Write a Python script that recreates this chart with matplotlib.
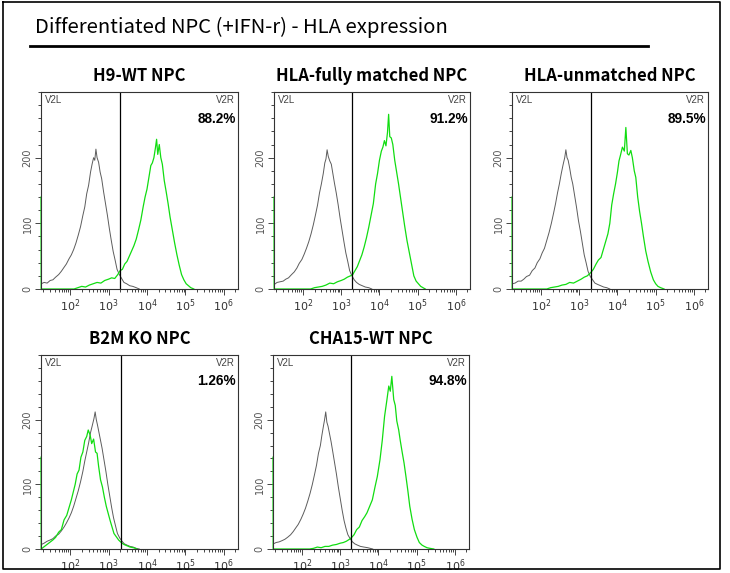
import numpy as np
import matplotlib
matplotlib.use("Agg")
import matplotlib.pyplot as plt
from matplotlib.ticker import LogLocator, FixedLocator, MultipleLocator, NullFormatter
from matplotlib.lines import Line2D

W, H = 730, 573

main_title = "Differentiated NPC (+IFN-r) - HLA expression"
panel_titles = ["H9-WT NPC", "HLA-fully matched NPC", "HLA-unmatched NPC",
                "B2M KO NPC", "CHA15-WT NPC"]
percent_labels = ["88.2%", "91.2%", "89.5%", "1.26%", "94.8%"]
gate_log = [3.30, 3.28, 3.30, 3.32, 3.27]
pileup_count = [140, 140, 140, 142, 142]

# gray = unstained / isotype control, green = HLA stained (x in log10 units)
gray_x = [
    [1.25, 1.32, 1.40, 1.48, 1.55, 1.62, 1.70, 1.77, 1.84, 1.90, 1.97, 2.03, 2.09, 2.15, 2.21, 2.27, 2.33, 2.38,
     2.43, 2.48, 2.53, 2.57, 2.61, 2.64, 2.67, 2.70, 2.74, 2.78, 2.82, 2.87, 2.92, 2.97, 3.02, 3.07, 3.12, 3.17,
     3.22, 3.28, 3.34, 3.40, 3.47, 3.55, 3.63, 3.72, 3.80],
    [1.25, 1.32, 1.40, 1.48, 1.55, 1.62, 1.70, 1.77, 1.84, 1.90, 1.97, 2.03, 2.09, 2.15, 2.21, 2.27, 2.33, 2.38,
     2.43, 2.48, 2.53, 2.57, 2.60, 2.63, 2.66, 2.70, 2.74, 2.78, 2.82, 2.87, 2.92, 2.97, 3.02, 3.07, 3.12, 3.17,
     3.22, 3.28, 3.34, 3.40, 3.47, 3.55, 3.63, 3.72, 3.80],
    [1.25, 1.32, 1.40, 1.48, 1.55, 1.62, 1.70, 1.77, 1.84, 1.90, 1.97, 2.03, 2.09, 2.15, 2.21, 2.27, 2.33, 2.38,
     2.43, 2.48, 2.53, 2.58, 2.62, 2.65, 2.68, 2.71, 2.75, 2.79, 2.83, 2.88, 2.93, 2.98, 3.03, 3.08, 3.13, 3.18,
     3.23, 3.29, 3.35, 3.41, 3.48, 3.56, 3.64, 3.72, 3.80],
    [1.25, 1.32, 1.40, 1.48, 1.55, 1.62, 1.70, 1.77, 1.84, 1.90, 1.97, 2.03, 2.09, 2.15, 2.21, 2.27, 2.33, 2.38,
     2.43, 2.48, 2.53, 2.58, 2.62, 2.65, 2.68, 2.71, 2.75, 2.79, 2.83, 2.88, 2.93, 2.98, 3.03, 3.08, 3.13, 3.18,
     3.23, 3.29, 3.35, 3.41, 3.48, 3.56, 3.64, 3.72, 3.80],
    [1.25, 1.32, 1.40, 1.48, 1.55, 1.62, 1.70, 1.77, 1.84, 1.90, 1.97, 2.03, 2.09, 2.15, 2.21, 2.27, 2.33, 2.38,
     2.43, 2.48, 2.52, 2.56, 2.59, 2.62, 2.65, 2.68, 2.72, 2.76, 2.80, 2.85, 2.90, 2.95, 3.00, 3.05, 3.10, 3.15,
     3.20, 3.26, 3.32, 3.38, 3.45, 3.53, 3.62, 3.72, 3.85],
]
gray_y = [
    [8, 10, 9, 13, 14, 18, 22, 27, 33, 38, 46, 52, 60, 70, 82, 95, 112, 125,
     145, 158, 178, 190, 200, 196, 213, 200, 193, 178, 168, 148, 130, 112, 92, 74, 57, 44,
     30, 22, 16, 10, 8, 5, 4, 2, 0],
    [7, 10, 11, 12, 15, 17, 22, 26, 32, 39, 45, 53, 62, 72, 84, 98, 114, 128,
     146, 160, 176, 192, 198, 212, 202, 195, 190, 176, 162, 146, 128, 108, 90, 72, 55, 42,
     28, 20, 14, 10, 7, 5, 3, 2, 0],
    [8, 9, 12, 12, 15, 19, 21, 28, 32, 40, 46, 55, 62, 74, 86, 100, 116, 130,
     146, 160, 176, 190, 200, 212, 200, 196, 184, 170, 160, 142, 124, 104, 88, 70, 52, 40,
     27, 19, 14, 9, 7, 5, 3, 2, 0],
    [7, 9, 12, 14, 16, 20, 23, 28, 34, 40, 48, 56, 66, 78, 90, 104, 120, 136,
     150, 164, 180, 192, 202, 212, 200, 192, 180, 168, 156, 138, 120, 100, 82, 64, 48, 36,
     24, 17, 12, 8, 6, 4, 3, 1, 0],
    [8, 10, 11, 13, 15, 18, 22, 27, 33, 38, 46, 54, 63, 74, 86, 100, 116, 130,
     148, 160, 176, 190, 200, 212, 196, 190, 178, 166, 152, 134, 116, 96, 78, 60, 44, 32,
     22, 16, 11, 8, 6, 4, 3, 2, 0],
]

green_x = [
    [2.10, 2.20, 2.30, 2.40, 2.50, 2.60, 2.70, 2.80, 2.90, 3.00, 3.08, 3.16, 3.24, 3.30, 3.36, 3.42, 3.48, 3.54,
     3.60, 3.66, 3.72, 3.78, 3.84, 3.90, 3.95, 4.00, 4.05, 4.10, 4.14, 4.18, 4.22, 4.25, 4.28, 4.32, 4.36, 4.40,
     4.45, 4.50, 4.55, 4.60, 4.66, 4.72, 4.78, 4.84, 4.90, 4.96, 5.02, 5.08, 5.14, 5.22],
    [2.20, 2.30, 2.40, 2.50, 2.60, 2.70, 2.80, 2.90, 3.00, 3.08, 3.16, 3.24, 3.30, 3.36, 3.42, 3.48, 3.54, 3.60,
     3.66, 3.72, 3.78, 3.84, 3.90, 3.95, 4.00, 4.05, 4.09, 4.13, 4.17, 4.21, 4.24, 4.27, 4.31, 4.35, 4.40, 4.45,
     4.50, 4.55, 4.60, 4.66, 4.72, 4.78, 4.84, 4.90, 4.96, 5.02, 5.08, 5.14, 5.20],
    [2.15, 2.25, 2.35, 2.45, 2.55, 2.65, 2.75, 2.85, 2.95, 3.05, 3.13, 3.21, 3.30, 3.37, 3.44, 3.50, 3.57, 3.63,
     3.69, 3.75, 3.80, 3.85, 3.90, 3.95, 4.00, 4.04, 4.08, 4.13, 4.18, 4.22, 4.26, 4.30, 4.35, 4.39, 4.44, 4.48,
     4.53, 4.58, 4.63, 4.68, 4.74, 4.80, 4.87, 4.94, 5.00, 5.06, 5.13, 5.22],
    [1.55, 1.62, 1.70, 1.77, 1.84, 1.91, 1.97, 2.03, 2.08, 2.13, 2.18, 2.23, 2.28, 2.33, 2.38, 2.43, 2.47, 2.52,
     2.56, 2.61, 2.66, 2.70, 2.74, 2.79, 2.84, 2.89, 2.94, 2.99, 3.04, 3.09, 3.14, 3.20, 3.26, 3.33, 3.40, 3.48,
     3.56, 3.65, 3.74],
    [2.20, 2.30, 2.40, 2.50, 2.60, 2.70, 2.80, 2.90, 3.00, 3.08, 3.16, 3.24, 3.30, 3.36, 3.43, 3.50, 3.57, 3.64,
     3.70, 3.77, 3.84, 3.91, 3.97, 4.04, 4.10, 4.16, 4.22, 4.27, 4.31, 4.35, 4.40, 4.44, 4.48, 4.53, 4.57, 4.62,
     4.67, 4.72, 4.77, 4.82, 4.88, 4.94, 5.01, 5.07, 5.14, 5.20, 5.27, 5.35, 5.45],
]
green_y = [
    [0, 2, 4, 3, 6, 8, 10, 9, 13, 15, 17, 16, 22, 28, 30, 38, 42, 50,
     58, 66, 76, 90, 105, 125, 140, 152, 170, 188, 192, 200, 215, 228, 205, 220, 200, 190,
     165, 148, 130, 110, 90, 70, 52, 36, 22, 14, 8, 5, 2, 0],
    [0, 2, 3, 4, 6, 9, 8, 11, 13, 15, 18, 20, 22, 28, 34, 43, 52, 64,
     78, 94, 112, 130, 160, 176, 196, 210, 216, 226, 218, 238, 266, 232, 230, 220, 196, 178,
     160, 140, 120, 96, 74, 56, 38, 20, 12, 8, 4, 2, 0],
    [0, 2, 3, 4, 6, 7, 10, 9, 12, 15, 18, 20, 25, 30, 38, 44, 48, 60,
     72, 84, 100, 128, 145, 160, 178, 195, 204, 216, 210, 246, 206, 204, 211, 200, 180, 170,
     140, 118, 100, 80, 58, 42, 26, 14, 8, 4, 2, 0],
    [14, 18, 26, 30, 45, 52, 64, 76, 88, 100, 116, 122, 142, 150, 168, 174, 184, 176,
     163, 170, 150, 148, 128, 107, 96, 80, 66, 55, 44, 34, 24, 19, 14, 10, 7, 5,
     3, 2, 0],
    [0, 1, 3, 2, 4, 4, 6, 7, 9, 10, 12, 15, 18, 22, 30, 34, 44, 50,
     56, 66, 76, 96, 112, 138, 168, 205, 230, 252, 244, 267, 231, 222, 198, 184, 168, 150,
     133, 112, 90, 66, 46, 30, 18, 10, 6, 4, 2, 1, 0],
]

x_min_log, x_max_log = 1.24, 6.37
grid_px = [(41, 92, 238, 289), (274, 92, 470, 289), (512, 92, 708, 289),
           (41, 355, 238, 549), (273, 355, 469, 549)]

fig = plt.figure(figsize=(W / 100, H / 100), dpi=100)

# outer frame and header
fig.add_artist(Line2D([3 / W, 720 / W, 720 / W, 3 / W, 3 / W],
                      [1 - 1.5 / H, 1 - 1.5 / H, 1 - 569 / H, 1 - 569 / H, 1 - 1.5 / H],
                      color="black", lw=1.2, transform=fig.transFigure))
fig.text(35 / W, 1 - 27 / H, main_title, fontsize=14.6, family=["Noto Sans CJK KR", "DejaVu Sans"],
         va="center", ha="left")
fig.add_artist(Line2D([30 / W, 648 / W], [1 - 46 / H, 1 - 46 / H], color="black", lw=2,
                      transform=fig.transFigure))

for i, (l, t, r, b) in enumerate(grid_px):
    ax = fig.add_axes([l / W, 1 - b / H, (r - l) / W, (b - t) / H])
    ax.set_xscale("log")
    gx = 10 ** np.array(gray_x[i])
    ax.plot(gx, gray_y[i], color="#5c5c5c", lw=0.7)
    grx = np.concatenate([[10 ** x_min_log, 10 ** (x_min_log + 0.004)], 10 ** np.array(green_x[i])])
    gry = np.concatenate([[pileup_count[i], 0], green_y[i]])
    ax.plot(grx, gry, color="#11dd11", lw=0.9, clip_on=False)
    ax.axvline(10 ** gate_log[i], color="black", lw=0.9)
    ax.set_xlim(10 ** x_min_log, 10 ** x_max_log)
    ax.set_ylim(0, 300)

    ax.xaxis.set_major_locator(LogLocator(base=10, numticks=10))
    ax.xaxis.set_minor_locator(LogLocator(base=10, subs=np.arange(2, 10), numticks=50))
    ax.xaxis.set_minor_formatter(NullFormatter())
    ax.yaxis.set_major_locator(FixedLocator([0, 100, 200]))
    ax.yaxis.set_minor_locator(MultipleLocator(20))
    ax.tick_params(which="both", direction="out", color="#444444", width=0.7,
                   labelsize=7, labelcolor="#555555", pad=2)
    ax.tick_params(which="major", length=4)
    ax.tick_params(which="minor", length=2.5)
    ax.tick_params(axis="x", labelsize=8, labelcolor="#333333")
    for lab in ax.get_yticklabels():
        lab.set_rotation(90)
        lab.set_va("center")
    for s in ax.spines.values():
        s.set_color("#333333")
        s.set_linewidth(0.8)

    ax.text(0.02, 0.985, "V2L", transform=ax.transAxes, fontsize=7, color="#444444",
            ha="left", va="top", family="Liberation Sans")
    ax.text(0.985, 0.985, "V2R", transform=ax.transAxes, fontsize=7, color="#444444",
            ha="right", va="top", family="Liberation Sans")
    ax.text(0.99, 0.90, percent_labels[i], transform=ax.transAxes, fontsize=9.8, fontweight="bold",
            ha="right", va="top", family="Liberation Sans")
    ax.set_title(panel_titles[i], fontsize=12, fontweight="bold", pad=8,
                 family=["Noto Sans CJK KR", "DejaVu Sans"])

fig.savefig("out.png", dpi=100)
